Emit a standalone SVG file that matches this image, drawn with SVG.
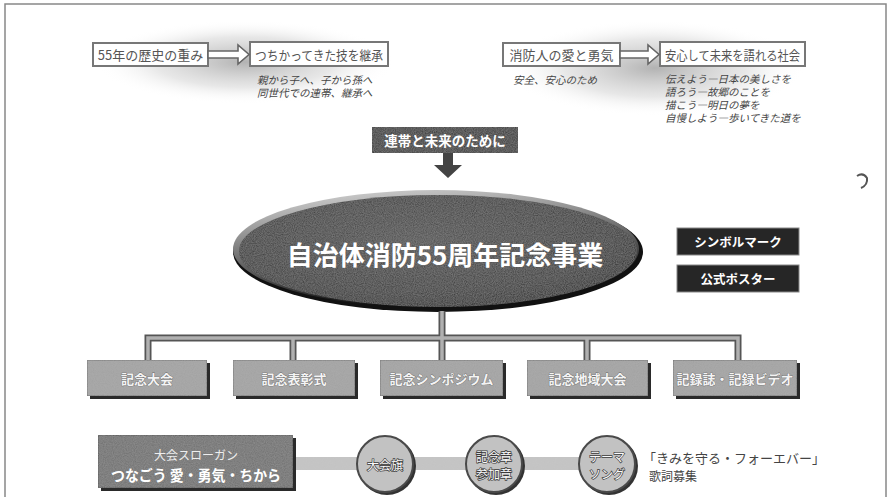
<svg xmlns="http://www.w3.org/2000/svg" width="892" height="497" viewBox="0 0 892 497">
<defs>
  <radialGradient id="halo" cx="0.5" cy="0.5" r="0.5">
    <stop offset="0" stop-color="#999" stop-opacity="0.75"/>
    <stop offset="0.6" stop-color="#bbb" stop-opacity="0.35"/>
    <stop offset="1" stop-color="#fff" stop-opacity="0"/>
  </radialGradient>
  <radialGradient id="ellg" cx="0.45" cy="0.4" r="0.6">
    <stop offset="0" stop-color="#4a4a4a"/>
    <stop offset="0.8" stop-color="#333"/>
    <stop offset="1" stop-color="#1e1e1e"/>
  </radialGradient>
  <linearGradient id="rim" x1="0" y1="0" x2="0.3" y2="1">
    <stop offset="0" stop-color="#ddd"/>
    <stop offset="0.5" stop-color="#777"/>
    <stop offset="1" stop-color="#111"/>
  </linearGradient>
  <filter id="grain" x="0" y="0" width="1" height="1">
    <feTurbulence type="fractalNoise" baseFrequency="0.9" numOctaves="2" seed="3" result="n"/>
    <feColorMatrix in="n" type="matrix" values="0 0 0 0 0.5  0 0 0 0 0.5  0 0 0 0 0.5  0 0 0 0.35 0" result="g"/>
    <feComposite in="g" in2="SourceGraphic" operator="in" result="gc"/>
    <feMerge><feMergeNode in="SourceGraphic"/><feMergeNode in="gc"/></feMerge>
  </filter>
</defs>
<style>
  .jp { font-family: "Noto Sans CJK JP", "Noto Sans", sans-serif; }
  .topbox { fill: #fff; stroke: #777; stroke-width: 2; }
  .toptxt { font-size: 13px; fill: #555; text-anchor: middle; dominant-baseline: central; }
  .note { font-size: 10.5px; fill: #444; font-style: italic; }
  .harrow { fill: #fff; stroke: #666; stroke-width: 1.6; stroke-linejoin: miter; }
  .dark { fill: #262626; stroke: #888; stroke-width: 1; }
  .darktxt { font-size: 12.5px; fill: #fff; font-weight: bold; text-anchor: middle; dominant-baseline: central; }
  .gbox { fill: #a2a2a2; stroke: #666; stroke-width: 1; }
  .shadow { fill: #2a2a2a; }
  .gtxt { font-size: 13px; fill: #f4f4f4; stroke: #666; stroke-width: 0.7; paint-order: stroke; font-weight: bold; text-anchor: middle; dominant-baseline: central; }
  .circ { fill: #c2c2c2; stroke: #4a4a4a; stroke-width: 2; }
  .ctxt { font-size: 12px; fill: #fafafa; stroke: #3a3a3a; stroke-width: 1.4; paint-order: stroke; text-anchor: middle; dominant-baseline: central; }
  .barout { fill: none; stroke: #555; stroke-width: 7; stroke-linejoin: miter; }
  .barin { fill: none; stroke: #b0b0b0; stroke-width: 3.5; stroke-linejoin: miter; }
</style>

<!-- frame -->
<path d="M5 500 V4 H886 V500" fill="none" stroke="#888" stroke-width="1.5"/>

<!-- halos -->
<ellipse cx="245" cy="62" rx="150" ry="42" fill="url(#halo)"/>
<ellipse cx="655" cy="68" rx="150" ry="48" fill="url(#halo)"/>

<g id="n-rekishi">
  <rect class="topbox" x="93" y="43" width="115" height="23"/>
  <text class="jp toptxt" x="150.5" y="54.5">55年の歴史の重み</text>
</g>
<g id="n-waza">
  <rect class="topbox" x="250" y="42" width="138" height="24"/>
  <text class="jp toptxt" x="319" y="54" textLength="128" lengthAdjust="spacingAndGlyphs">つちかってきた技を継承</text>
  <text class="jp note" x="257" y="84">親から子へ、子から孫へ</text>
  <text class="jp note" x="257" y="97">同世代での連帯、継承へ</text>
</g>
<g id="n-ai">
  <rect class="topbox" x="503" y="43" width="117" height="23"/>
  <text class="jp toptxt" x="561.5" y="54.5">消防人の愛と勇気</text>
  <text class="jp note" x="513" y="84">安全、安心のため</text>
</g>
<g id="n-shakai">
  <rect class="topbox" x="660" y="42" width="145" height="24"/>
  <text class="jp toptxt" x="732.5" y="54" textLength="135" lengthAdjust="spacingAndGlyphs">安心して未来を語れる社会</text>
  <text class="jp note" x="665" y="83">伝えよう―日本の美しさを</text>
  <text class="jp note" x="665" y="96">語ろう―故郷のことを</text>
  <text class="jp note" x="665" y="109">描こう―明日の夢を</text>
  <text class="jp note" x="665" y="122">自慢しよう―歩いてきた道を</text>
</g>

<g id="n-rentai">
  <rect x="372" y="127" width="146" height="26" fill="#333" filter="url(#grain)"/>
  <text class="jp" x="445" y="140" font-size="13.5" font-weight="bold" fill="#fff" text-anchor="middle" dominant-baseline="central">連帯と未来のために</text>
</g>

<g id="n-main">
  <ellipse cx="438" cy="252" rx="205" ry="60" fill="#111"/>
  <ellipse cx="436" cy="249" rx="203" ry="59" fill="url(#rim)"/>
  <ellipse cx="438" cy="251" rx="199" ry="56" fill="url(#ellg)" filter="url(#grain)"/>
  <text class="jp" x="445" y="253" font-size="26" font-weight="bold" fill="#fff" text-anchor="middle" dominant-baseline="central">自治体消防55周年記念事業</text>
</g>

<g id="n-symbol">
  <rect class="dark" x="677" y="228" width="122" height="27"/>
  <text class="jp darktxt" x="738" y="241.5">シンボルマーク</text>
</g>
<g id="n-poster">
  <rect class="dark" x="677" y="265" width="122" height="27"/>
  <text class="jp darktxt" x="738" y="278.5">公式ポスター</text>
</g>

<g id="connectors">
  <!-- arrows top -->
  <path class="harrow" d="M208 51 H238 V45 L249 54.5 L238 64 V58 H208 Z"/>
  <path class="harrow" d="M620 51 H648 V45 L659 54.5 L648 64 V58 H620 Z"/>
  <!-- down arrow -->
  <path d="M443 153 H453 V165 H462 L448 178 L434 165 H443 Z" fill="#444"/>
  <!-- tree -->
  <path class="barout" d="M442 311 V338 M148 360 V338 H738 V360 M293 338 V360 M442 338 V360 M587 338 V360"/>
  <path class="barin" d="M442 311 V338 M148 360 V338 H738 V360 M293 338 V360 M442 338 V360 M587 338 V360"/>
  <!-- bottom band -->
  <rect x="293" y="457" width="300" height="13" fill="#c6c6c6" filter="url(#grain)"/>
</g>

<g id="n-taikai">
  <rect class="shadow" x="90" y="363" width="120" height="36"/>
  <rect class="gbox" x="87" y="360" width="120" height="36" filter="url(#grain)"/>
  <text class="jp gtxt" x="147" y="378">記念大会</text>
</g>
<g id="n-hyosho">
  <rect class="shadow" x="236" y="363" width="122" height="36"/>
  <rect class="gbox" x="233" y="360" width="122" height="36" filter="url(#grain)"/>
  <text class="jp gtxt" x="294" y="378">記念表彰式</text>
</g>
<g id="n-sympo">
  <rect class="shadow" x="383" y="363" width="123" height="36"/>
  <rect class="gbox" x="380" y="360" width="123" height="36" filter="url(#grain)"/>
  <text class="jp gtxt" x="441.5" y="378">記念シンポジウム</text>
</g>
<g id="n-chiiki">
  <rect class="shadow" x="530" y="363" width="121" height="36"/>
  <rect class="gbox" x="527" y="360" width="121" height="36" filter="url(#grain)"/>
  <text class="jp gtxt" x="587.5" y="378">記念地域大会</text>
</g>
<g id="n-kiroku">
  <rect class="shadow" x="676" y="363" width="124" height="36"/>
  <rect class="gbox" x="673" y="360" width="124" height="36" filter="url(#grain)"/>
  <text class="jp gtxt" x="735" y="378">記録誌・記録ビデオ</text>
</g>

<g id="n-slogan">
  <rect class="shadow" x="101" y="438" width="195" height="53"/>
  <rect x="98" y="435" width="195" height="53" fill="#6e6e6e" stroke="#444" stroke-width="1" filter="url(#grain)"/>
  <text class="jp" x="196" y="454" font-size="12" fill="#eee" text-anchor="middle" dominant-baseline="central">大会スローガン</text>
  <text class="jp" x="196" y="474" font-size="15" font-weight="bold" fill="#fff" text-anchor="middle" dominant-baseline="central" textLength="170" lengthAdjust="spacingAndGlyphs">つなごう 愛・勇気・ちから</text>
</g>

<g id="n-hata">
  <circle cx="387" cy="466" r="29" fill="#333"/>
  <circle class="circ" cx="385" cy="464" r="28"/>
  <text class="jp ctxt" x="385" y="464">大会旗</text>
</g>
<g id="n-kinensho">
  <circle cx="496" cy="466" r="29" fill="#333"/>
  <circle class="circ" cx="494" cy="464" r="28"/>
  <text class="jp ctxt" x="494" y="456">記念章</text>
  <text class="jp ctxt" x="494" y="473">参加章</text>
</g>
<g id="n-theme">
  <circle cx="609" cy="466" r="29" fill="#333"/>
  <circle class="circ" cx="607" cy="464" r="28"/>
  <text class="jp ctxt" x="607" y="456">テーマ</text>
  <text class="jp ctxt" x="607" y="473">ソング</text>
  <text class="jp" x="643" y="457" font-size="13" fill="#444" dominant-baseline="central">「きみを守る・フォーエバー」</text>
  <text class="jp" x="649" y="475" font-size="12" fill="#444" dominant-baseline="central">歌詞募集</text>
</g>

<!-- stray mark -->
<path d="M857 176 Q863 172 867 178 Q868 185 861 188" fill="none" stroke="#555" stroke-width="2"/>
</svg>
